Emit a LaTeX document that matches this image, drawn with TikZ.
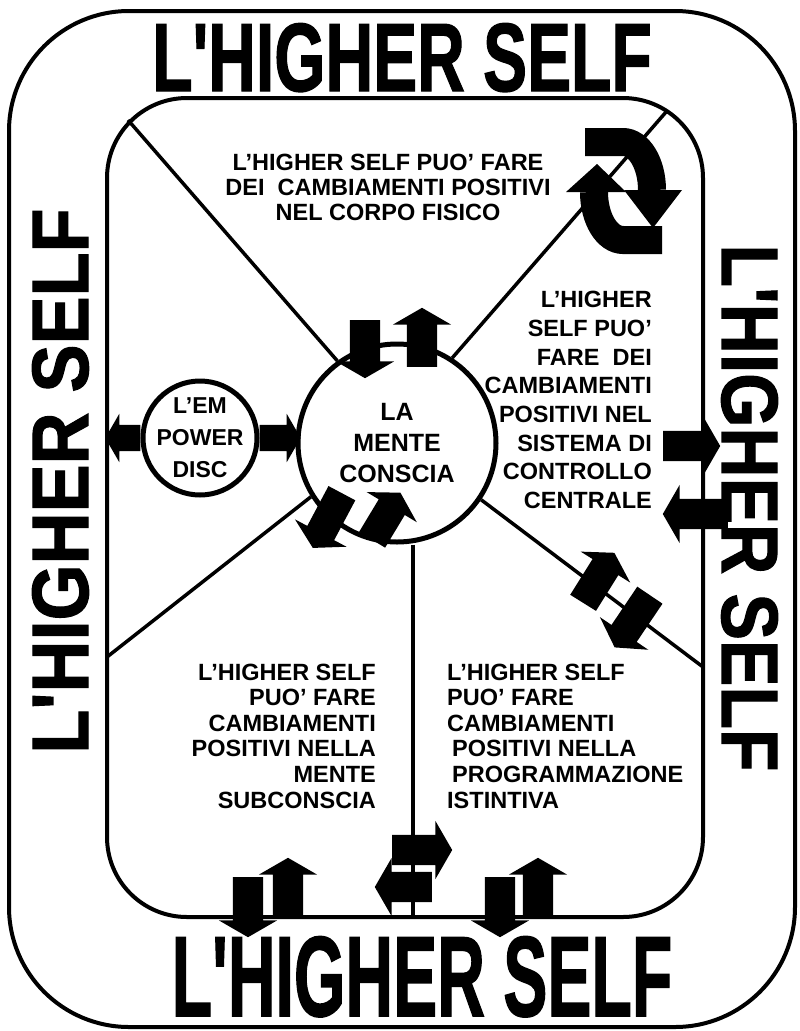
\documentclass[tikz,border=0pt]{standalone}
\usepackage{fontspec}
\setsansfont{Liberation Sans}
\newfontfamily\heavyfont{Liberation Sans}[Ligatures=TeXOff, BoldFeatures={FakeBold=1.5}]
\usetikzlibrary{
  shapes.arrows,
  positioning
}
\tikzset{
  % Rounded frame line
  frame/.style={line width=4pt, rounded corners=#1},
  % Spoke from the centre circle to the inner frame
  spoke/.style={line width=3.5pt},
  % Round node (centre circle, disc)
  ring/.style={
    circle, draw, line width=5pt, fill=white,
    inner sep=0pt, minimum size=#1,
    align=center, font=\sffamily\bfseries\fontsize{25}{31}\selectfont
  },
  % Filled block arrow, placed by its tail
  blk/.style={
    single arrow, fill=black, draw=none,
    inner sep=0pt, inner ysep=15pt,
    single arrow head extend=14pt, single arrow tip angle=120,
    minimum width=0pt, minimum height=#1, anchor=tail
  },
  blksmall/.style={blk=#1, inner ysep=13pt, single arrow head extend=11pt},
  % Text block
  lbl/.style={font=\sffamily\bfseries\fontsize{23.5}{25}\selectfont, inner sep=0pt},
  % Big titles
  title/.style={font=\heavyfont\bfseries\fontsize{#1}{#1}\selectfont, inner sep=0pt, anchor=base}
}

\begin{document}
\begin{tikzpicture}[x=1pt, y=-1pt]
  \useasboundingbox (0,0) rectangle (800,1031);

  % Frames
  \draw[frame=120pt] (9,11) rectangle (795,1027);
  \draw[frame=80pt]  (107,98) rectangle (703,917);

  % Circles
  \node[ring=198pt] (mente) at (397,443) {LA\\MENTE\\CONSCIA};
  \node[ring=114pt, inner sep=-8pt, font=\sffamily\bfseries\fontsize{23}{32}\selectfont]
       (disc) at (200,438) {L’EM\\POWER\\DISC};

  % Spokes
  \coordinate (ul) at (128,120);
  \coordinate (ur) at (666,112);
  \coordinate (ll) at (107,657);
  \coordinate (lr) at (703,667);
  \coordinate (dn) at (413,917);
  \draw[spoke] (mente.126) -- (ul);
  \draw[spoke] (mente.57)  -- (ur);
  \draw[spoke] (mente.212) -- (ll);
  \draw[spoke] (mente.-34) -- (lr);
  \draw[spoke] (mente.south -| dn) -- (dn);

  % Cycle symbol, top right
  \draw[line width=28pt] (585,142) -- (623,142) arc[start angle=270, end angle=360, x radius=29, y radius=48];
  \fill (624,190) -- (682,190) -- (653,228) -- cycle;
  \draw[line width=28pt] (662,240) -- (623,240) arc[start angle=90, end angle=180, x radius=29, y radius=48];
  \fill (566,192) -- (626,192) -- (597,164) -- cycle;

  % Block arrows
  \node[blk=58, rotate=-90]  (a1)  at (365,320) {};
  \node[blk=59, rotate=90]   (a2)  at (422,367) {};
  \node[blk=62, rotate=-118] (a3)  at (342,493) {};
  \node[blk=55, rotate=59]   (a4)  at (372,540) {};
  \node[blk=59, rotate=58]   (a5)  at (583,603) {};
  \node[blk=63, rotate=-124] (a6)  at (650,595) {};
  \node[blk=57, rotate=0]    (a7)  at (663,446) {};
  \node[blk=65, rotate=180]  (a8)  at (728,514) {};
  \node[blksmall=35, rotate=180] (a9)  at (disc.west) {};
  \node[blksmall=41, rotate=0]   (a10) at (disc.east) {};
  \node[blk=60, rotate=0]    (a11) at (392,850) {};
  \node[blk=57, rotate=180]  (a12) at (432,887) {};
  \node[blk=60, rotate=-90]  (a13) at (248,877) {};
  \node[blk=59, rotate=90]   (a14) at (288,917) {};
  \node[blk=60, rotate=-90]  (a15) at (500,877) {};
  \node[blk=59, rotate=90]   (a16) at (538,917) {};

  % Text blocks
  \node[lbl, align=center] (fisico) at (388,187)
       {L’HIGHER SELF PUO’ FARE\\DEI\ \ CAMBIAMENTI POSITIVI\\NEL CORPO FISICO};
  \node[lbl, align=right, anchor=east, font=\sffamily\bfseries\fontsize{23.5}{28.7}\selectfont] (sistema) at (652,400)
       {L’HIGHER\\SELF PUO’\\FARE\ \ DEI\\CAMBIAMENTI\\POSITIVI NEL\\SISTEMA DI\\CONTROLLO\\CENTRALE};
  \node[lbl, align=right, anchor=east, font=\sffamily\bfseries\fontsize{23.5}{25.6}\selectfont] (subconscia) at (376,736)
       {L’HIGHER SELF\\PUO’ FARE\\CAMBIAMENTI\\POSITIVI NELLA\\MENTE\\SUBCONSCIA};
  \node[lbl, align=left, anchor=west, font=\sffamily\bfseries\fontsize{23.5}{25.6}\selectfont] (istintiva) at (447,736)
       {L’HIGHER SELF\\PUO’ FARE\\CAMBIAMENTI\\\hspace*{5pt}POSITIVI NELLA\\\hspace*{5pt}PROGRAMMAZIONE\\ISTINTIVA};

  % Titles
  \node[title=97pt]  (toptitle) at (402,91)   {\scalebox{0.68}[1]{L'HIGHER SELF}};
  \node[title=114pt] (bottitle) at (422,1016) {\scalebox{0.58}[1]{L'HIGHER SELF}};
  \node[title=80pt, rotate=90]  (lefttitle)  at (88,481)  {\scalebox{0.9}[1]{L'HIGHER SELF}};
  \node[title=80pt, rotate=-90] (righttitle) at (722,508) {\scalebox{0.87}[1]{L'HIGHER SELF}};

\end{tikzpicture}
\end{document}
